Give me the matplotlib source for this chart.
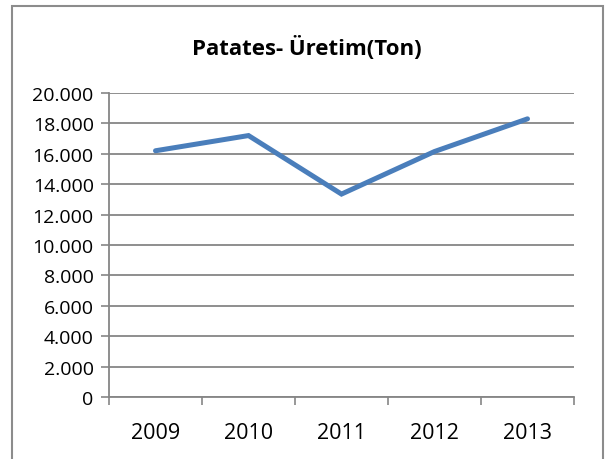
import matplotlib
matplotlib.use("Agg")
import matplotlib.pyplot as plt
from matplotlib.patches import Rectangle
from matplotlib.ticker import FuncFormatter

years = ["2009", "2010", "2011", "2012", "2013"]
production = [16200, 17200, 13350, 16150, 18300]
y_ticks = list(range(0, 20001, 2000))

title = "Patates- Üretim(Ton)"

plt.rcParams['font.family'] = ['Open Sans', 'DejaVu Sans']

fig = plt.figure(figsize=(6.15, 4.6), dpi=100)
ax = fig.add_axes([109 / 615, 1 - 398 / 460, 465 / 615, 304 / 460])

# outer chart border (bottom edge runs off the image)
fig.patches.append(Rectangle((12 / 615, -0.01), 591 / 615, 1 - 7 / 460 + 0.01,
                             transform=fig.transFigure, fill=False,
                             edgecolor="#8c8c8c", linewidth=1.5))

xs = [i + 0.5 for i in range(len(years))]
ax.plot(xs, production, color="#4a7ebb", linewidth=3.6,
        solid_capstyle="round", solid_joinstyle="miter", zorder=3)

ax.set_xlim(0, len(years))
ax.set_ylim(0, 20000)
ax.set_yticks(y_ticks)
ax.yaxis.set_major_formatter(FuncFormatter(lambda v, p: f"{int(v):,}".replace(",", ".")))
ax.set_xticks(range(len(years) + 1))
ax.set_xticklabels([])
ax.set_xticks(xs, minor=True)
ax.set_xticklabels(years, minor=True, fontsize=15.5)
ax.tick_params(axis="x", which="minor", length=0, pad=18)
ax.tick_params(axis="x", which="major", length=6, color="#868686", width=1.2)
ax.tick_params(axis="y", length=6, color="#868686", width=1.2, labelsize=14, pad=5)

ax.grid(axis="y", color="#868686", linewidth=1.3)
ax.set_axisbelow(True)
for s in ["top", "right"]:
    ax.spines[s].set_visible(False)
for s in ["left", "bottom"]:
    ax.spines[s].set_color("#868686")
    ax.spines[s].set_linewidth(1.3)

fig.text(307 / 615, 1 - 48 / 460, title, ha="center", va="center",
         fontsize=16, fontweight="bold")

fig.savefig("out.png", dpi=100)
